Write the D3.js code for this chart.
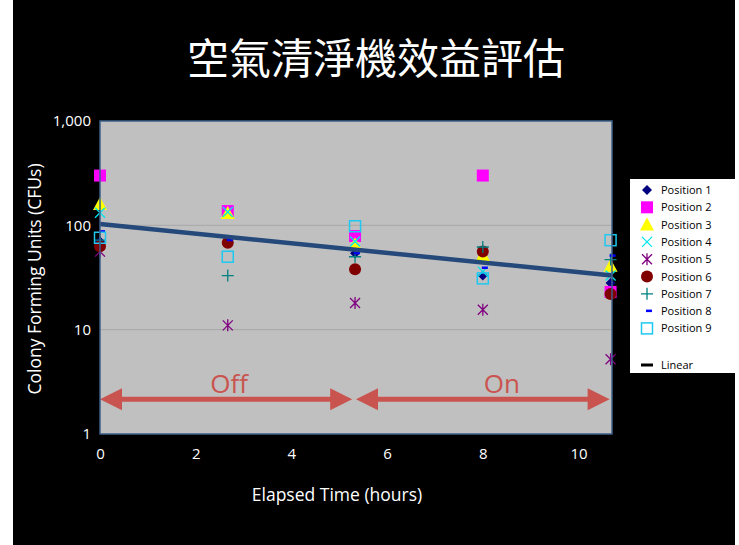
<!DOCTYPE html>
<html><head><meta charset="utf-8">
<script src="https://cdn.jsdelivr.net/npm/d3@7"></script>
<style>
html,body{margin:0;padding:0;background:#fff;}
svg{display:block;}
</style></head>
<body>
<script>
// ---- data ----
const times = [0, 2.67, 5.33, 8, 10.67];
const seriesNames = ["Position 1","Position 2","Position 3","Position 4","Position 5","Position 6","Position 7","Position 8","Position 9"];
const p1 = [70, 70, 54, 33, 28];
const p2 = [300, 137, 79, 300, 23];
const p3 = [160, 131, 66, 52, 41];
const p4 = [132, 134, 70, 36, 33];
const p5 = [56, 11, 18, 15.5, 5.2];
const p6 = [63, 68, 38, 56, 22];
const p7 = [72, 33, 50, 62, 47];
const p8 = [87, 72, 54, 39, 51];
const p9 = [76, 50, 98, 31, 72];
const trendStart = 103, trendEnd = 33;
const yTicks = [1, 10, 100, 1000];
const xTicks = [0, 2, 4, 6, 8, 10];
const periods = [{label:"Off", from:0, to:5.27, at:2.7}, {label:"On", from:5.35, to:10.65, at:8.4}];
const title = "空氣清淨機效益評估";

const allSeries = [p1,p2,p3,p4,p5,p6,p7,p8,p9];
const W = 739, H = 545;
const svg = d3.select("body").append("svg").attr("width", W).attr("height", H);
svg.append("rect").attr("x",13).attr("y",0).attr("width",722).attr("height",H).attr("fill","#000");

const x = d3.scaleLinear().domain([0, 10.7]).range([100, 612]);
const y = d3.scaleLog().domain([1, 1000]).range([434, 121]);
const font = "'Open Sans','Liberation Sans',sans-serif";

// title
svg.append("text").attr("x", 376).attr("y", 74).attr("text-anchor","middle")
  .attr("fill","#fff").attr("font-size", 42).attr("font-family","'Noto Sans CJK TC','Noto Sans CJK SC',sans-serif")
  .text(title);

// plot area
svg.append("rect").attr("x", x(0)).attr("y", y(1000)).attr("width", x(10.7)-x(0)).attr("height", y(1)-y(1000))
  .attr("fill","#c0c0c0");
// gridlines
svg.append("g").selectAll("line").data([10,100]).join("line")
  .attr("x1", x(0)).attr("x2", x(10.7)).attr("y1", d=>y(d)).attr("y2", d=>y(d))
  .attr("stroke","#a8a8a8").attr("stroke-width",1);

// axes
const yAxis = d3.axisLeft(y).tickValues(yTicks).tickFormat(d3.format(",")).tickSize(0).tickPadding(9);
const gy = svg.append("g").attr("transform",`translate(${x(0)},0)`).call(yAxis);
gy.select(".domain").remove();
gy.selectAll("text").attr("fill","#fff").attr("font-size",15).attr("font-family",font);
const xAxis = d3.axisBottom(x).tickValues(xTicks).tickSize(0).tickPadding(14);
const gx = svg.append("g").attr("transform",`translate(0,${y(1)})`).call(xAxis);
gx.select(".domain").remove();
gx.selectAll("text").attr("fill","#fff").attr("font-size",15).attr("font-family",font);

// axis titles
svg.append("text").attr("transform","translate(41,279) rotate(-90)").attr("text-anchor","middle")
  .attr("fill","#fff").attr("font-size",17.5).attr("font-family",font).text("Colony Forming Units (CFUs)");
svg.append("text").attr("x",337).attr("y",501).attr("text-anchor","middle")
  .attr("fill","#fff").attr("font-size",17.5).attr("font-family",font).text("Elapsed Time (hours)");

// arrows
const arrowColor = "#c9544f";
const ay = y(2.15);
const ag = svg.append("g");
periods.forEach(p => {
  const x0 = x(p.from), x1 = x(p.to), hl = 22, hw = 11;
  ag.append("line").attr("x1", x0+hl-2).attr("x2", x1-hl+2).attr("y1", ay).attr("y2", ay)
    .attr("stroke", arrowColor).attr("stroke-width", 5);
  ag.append("path").attr("d", `M${x0},${ay} L${x0+hl},${ay-hw} L${x0+hl},${ay+hw} Z`).attr("fill", arrowColor);
  ag.append("path").attr("d", `M${x1},${ay} L${x1-hl},${ay-hw} L${x1-hl},${ay+hw} Z`).attr("fill", arrowColor);
  ag.append("text").attr("x", x(p.at)).attr("y", ay-6).attr("text-anchor","middle")
    .attr("fill", arrowColor).attr("font-size", 26).attr("font-family", font).text(p.label);
});

// marker drawing
function marker(g, i, cx, cy) {
  switch(i) {
    case 0: g.append("path").attr("d", `M${cx},${cy-5} L${cx+5},${cy} L${cx},${cy+5} L${cx-5},${cy} Z`).attr("fill","#000080"); break;
    case 1: g.append("rect").attr("x",cx-6).attr("y",cy-6).attr("width",12).attr("height",12).attr("fill","#ff00ff"); break;
    case 2: g.append("path").attr("d", `M${cx},${cy-7} L${cx+7},${cy+6} L${cx-7},${cy+6} Z`).attr("fill","#ffff00"); break;
    case 3: g.append("path").attr("d", `M${cx-5},${cy-5} L${cx+5},${cy+5} M${cx+5},${cy-5} L${cx-5},${cy+5}`).attr("stroke","#00e5ee").attr("stroke-width",1.3); break;
    case 4: g.append("path").attr("d", `M${cx-5},${cy-5} L${cx+5},${cy+5} M${cx+5},${cy-5} L${cx-5},${cy+5} M${cx},${cy-6} L${cx},${cy+6}`).attr("stroke","#800080").attr("stroke-width",1.3); break;
    case 5: g.append("circle").attr("cx",cx).attr("cy",cy).attr("r",6).attr("fill","#800000"); break;
    case 6: g.append("path").attr("d", `M${cx-6},${cy} L${cx+6},${cy} M${cx},${cy-6} L${cx},${cy+6}`).attr("stroke","#008080").attr("stroke-width",1.3); break;
    case 7: g.append("rect").attr("x",cx-1).attr("y",cy-1.5).attr("width",6).attr("height",2.5).attr("fill","#0000ff"); break;
    case 8: g.append("rect").attr("x",cx-5.5).attr("y",cy-5.5).attr("width",11).attr("height",11).attr("fill","none").attr("stroke","#1ec8f0").attr("stroke-width",1.5); break;
  }
}
const mg = svg.append("g");
allSeries.forEach((s, i) => {
  s.forEach((v, j) => marker(mg, i, x(times[j]), y(v)));
});

// trend line
svg.append("line").attr("x1", x(0)).attr("y1", y(trendStart)).attr("x2", x(10.7)).attr("y2", y(trendEnd))
  .attr("stroke","#24497a").attr("stroke-width",4.5);

// plot border
svg.append("rect").attr("x", x(0)).attr("y", y(1000)).attr("width", x(10.7)-x(0)).attr("height", y(1)-y(1000))
  .attr("fill","none").attr("stroke","#3d5f8a").attr("stroke-width",1.5);

// legend
const lg = svg.append("g");
lg.append("rect").attr("x",630).attr("y",179).attr("width",106).attr("height",194).attr("fill","#fff");
seriesNames.forEach((n, i) => {
  const ly = 190 + i*17.3;
  marker(lg, i, 647, ly);
  lg.append("text").attr("x",661).attr("y",ly+4).attr("font-size",11).attr("font-family",font).attr("fill","#000").text(n);
});
lg.append("line").attr("x1",641).attr("x2",653).attr("y1",365).attr("y2",365).attr("stroke","#000").attr("stroke-width",3);
lg.append("text").attr("x",661).attr("y",369).attr("font-size",11).attr("font-family",font).attr("fill","#000").text("Linear");
</script>
</body></html>
